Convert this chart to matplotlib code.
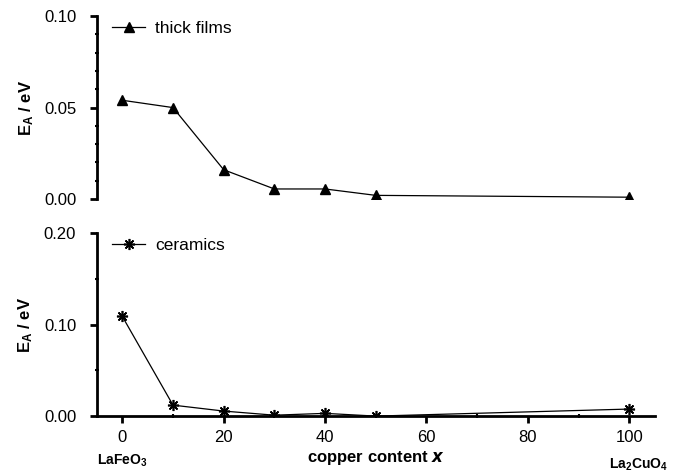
import matplotlib
matplotlib.use("Agg")
import matplotlib.pyplot as plt
from matplotlib.ticker import MultipleLocator, FormatStrFormatter

plt.rcParams["font.family"] = ["Liberation Sans", "DejaVu Sans"]
plt.rcParams["mathtext.fontset"] = "custom"
plt.rcParams["mathtext.rm"] = "Liberation Sans"
plt.rcParams["mathtext.bf"] = "Liberation Sans:bold"
plt.rcParams["mathtext.it"] = "Liberation Sans:italic"

# 铜含量 x 与激活能 E_A
copper = [0, 10, 20, 30, 40, 50, 100]
ea_films = [0.054, 0.050, 0.016, 0.0055, 0.0055, 0.002, 0.001]
ea_ceramics = [0.109, 0.012, 0.0055, 0.001, 0.003, 0.0, 0.0077]

fig = plt.figure(figsize=(6.8, 4.75), dpi=100)
ax1 = fig.add_axes([0.1426, 0.581, 0.820, 0.385])
ax2 = fig.add_axes([0.1426, 0.124, 0.820, 0.385])


def style_axis(ax):
    for s in ["top", "right"]:
        ax.spines[s].set_visible(False)
    ax.spines["left"].set_linewidth(2)
    ax.spines["bottom"].set_linewidth(2)
    ax.set_xlim(-5, 105)
    ax.tick_params(axis="both", which="major", direction="out", length=5, width=2,
                   labelsize=12)
    ax.tick_params(axis="y", which="major", pad=10)
    ax.tick_params(axis="x", which="major", pad=5)
    ax.tick_params(axis="both", which="minor", direction="inout", length=3, width=1.5)


def add_legend(ax):
    ax.legend(loc="upper left", frameon=False, fontsize=12.5, handlelength=1.9,
              handletextpad=0.6, borderaxespad=0, borderpad=0,
              bbox_to_anchor=(0.027, 0.975))


# 厚膜
style_axis(ax1)
ax1.spines["bottom"].set_visible(False)
ax1.plot(copper, ea_films, color="black", lw=0.9, marker="^", ms=7.5,
         label="thick films")
ax1.set_ylim(0, 0.10)
ax1.yaxis.set_major_locator(MultipleLocator(0.05))
ax1.yaxis.set_minor_locator(MultipleLocator(0.01))
ax1.yaxis.set_major_formatter(FormatStrFormatter("%.2f"))
ax1.set_xticks([])
ax1.set_ylabel(r"$\mathbf{E_A}$ / eV", fontsize=12, fontweight="bold", labelpad=6)
add_legend(ax1)

# 陶瓷
style_axis(ax2)
ax2.plot(copper, ea_ceramics, color="black", lw=0.9, marker=(8, 2, 0), ms=8,
         mew=1.2, label="ceramics")
ax2.set_ylim(0, 0.20)
ax2.yaxis.set_major_locator(MultipleLocator(0.10))
ax2.yaxis.set_minor_locator(MultipleLocator(0.05))
ax2.yaxis.set_major_formatter(FormatStrFormatter("%.2f"))
ax2.xaxis.set_major_locator(MultipleLocator(20))
ax2.xaxis.set_minor_locator(MultipleLocator(10))
ax2.set_ylabel(r"$\mathbf{E_A}$ / eV", fontsize=12, fontweight="bold", labelpad=6)
ax2.set_xlabel(r"copper content $\boldsymbol{x}$", fontsize=12, fontweight="bold",
               labelpad=3)
add_legend(ax2)

fig.text(122 / 680, 1 - 461 / 475, r"$\mathbf{LaFeO_3}$", fontsize=10,
         ha="center", va="center")
fig.text(638 / 680, 1 - 465 / 475, r"$\mathbf{La_2CuO_4}$", fontsize=10,
         ha="center", va="center")

fig.savefig("out.png", dpi=100)
